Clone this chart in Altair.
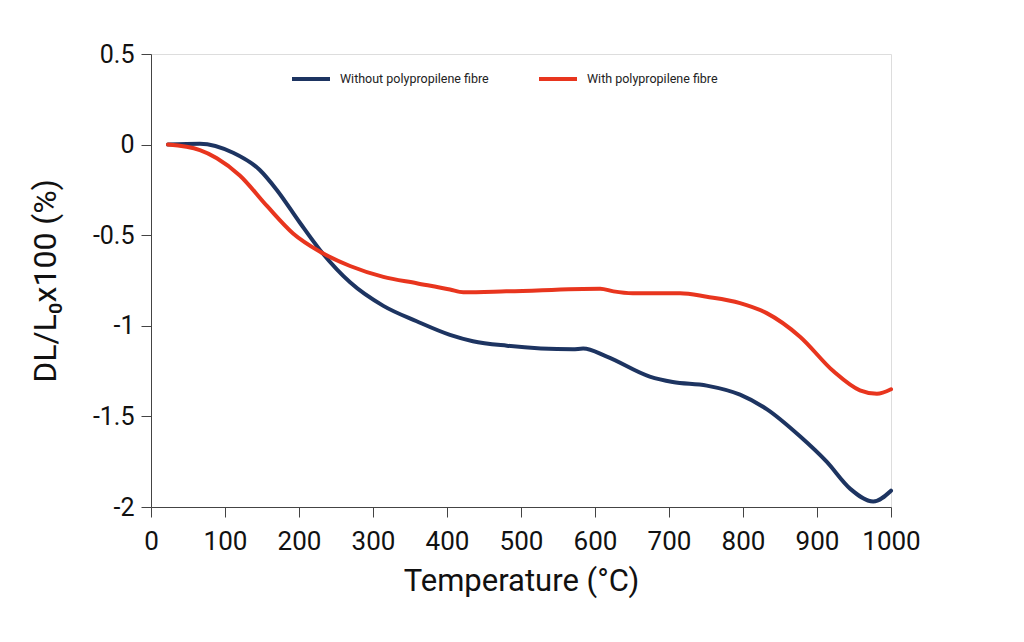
import altair as alt
import pandas as pd

# Without polypropylene fibre
t_without = [23, 66, 111, 147, 170, 201, 228, 269, 314, 359, 404, 435, 481, 570, 584,
             616, 674, 705, 751, 796, 832, 877, 913, 945, 976, 1000]
v_without = [0.0, 0.005, -0.045, -0.14, -0.25, -0.43, -0.58, -0.76, -0.89, -0.975, -1.05,
             -1.085, -1.11, -1.13, -1.125, -1.17, -1.28, -1.31, -1.33, -1.38, -1.46, -1.61,
             -1.75, -1.90, -1.97, -1.91]

# With polypropylene fibre
t_with = [23, 66, 89, 120, 157, 192, 228, 269, 314, 359, 404, 422, 480, 607, 625, 651,
          715, 751, 796, 832, 877, 922, 958, 981, 1000]
v_with = [0.0, -0.03, -0.075, -0.17, -0.34, -0.49, -0.59, -0.67, -0.73, -0.765, -0.80,
          -0.815, -0.81, -0.795, -0.81, -0.82, -0.82, -0.84, -0.875, -0.93, -1.06, -1.25,
          -1.356, -1.375, -1.35]

series_names = ["Without polypropilene fibre", "With polypropilene fibre"]
series_colors = ["#1d3461", "#e8351e"]

x_ticks = [0, 100, 200, 300, 400, 500, 600, 700, 800, 900, 1000]
y_ticks = [-2, -1.5, -1, -0.5, 0, 0.5]

df = pd.concat([
    pd.DataFrame({"T": t_without, "v": v_without, "series": series_names[0], "o": range(len(t_without))}),
    pd.DataFrame({"T": t_with, "v": v_with, "series": series_names[1], "o": range(len(t_with))}),
])

FONT = "Roboto"

chart = alt.Chart(df).mark_line(strokeWidth=4, interpolate="monotone", strokeCap="round").encode(
    x=alt.X("T:Q", scale=alt.Scale(domain=[0, 1000], nice=False),
            axis=alt.Axis(values=x_ticks, title="Temperature (°C)", grid=False,
                          labelExpr="toString(datum.value)",
                          labelFontSize=26, titleFontSize=31, labelPadding=11,
                          titlePadding=12, tickSize=10, labelFlush=False,
                          labelColor="#111", titleColor="#111",
                          titleFontWeight="normal", domainColor="#444", tickColor="#444")),
    y=alt.Y("v:Q", scale=alt.Scale(domain=[-2, 0.5], nice=False, zero=False),
            axis=alt.Axis(values=y_ticks, title="DL/L₀x100 (%)", grid=False,
                          labelExpr="toString(datum.value)",
                          labelFontSize=25, titleFontSize=32, labelPadding=7,
                          titlePadding=30, tickSize=10, labelFlush=False,
                          labelColor="#111", titleColor="#111",
                          titleFontWeight="normal", domainColor="#444", tickColor="#444")),
    color=alt.Color("series:N",
                    scale=alt.Scale(domain=series_names, range=series_colors),
                    legend=alt.Legend(title=None, orient="none", legendX=139, legendY=4,
                                      direction="horizontal", symbolType="stroke",
                                      symbolStrokeWidth=4, symbolSize=1444,
                                      labelFontSize=12.5, labelColor="#222",
                                      columnPadding=42, labelOffset=8, labelLimit=300)),
    order="o:Q",
).properties(
    width=740, height=453,
    padding={"left": 143, "top": 46, "right": 125, "bottom": 120},
    autosize="none",
).configure_view(
    stroke="#444", strokeWidth=1
).configure(
    font=FONT
)

chart.save("out.html", embed_options={"renderer": "svg", "actions": False})
